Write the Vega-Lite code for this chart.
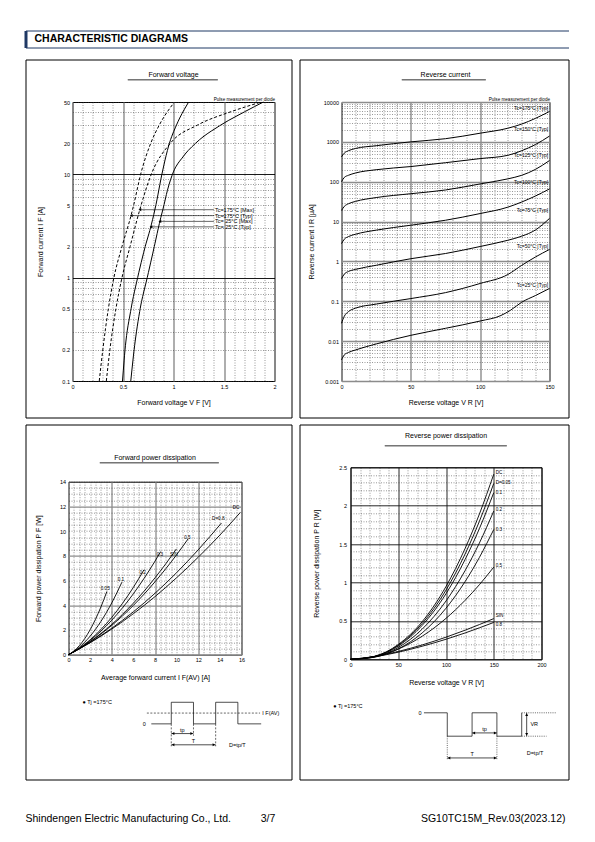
{
"$schema": "https://vega.github.io/schema/vega-lite/v6.json",
"background": "white",
"padding": {"left": 24.5, "top": 30.5, "right": 2, "bottom": 2},
"bounds": "flush",
"spacing": 12,
"datasets": {
 "hdr": [{"h": "CHARACTERISTIC DIAGRAMS"}],
 "one": [{"a": 0}],
 "fvLines": [
  {"s":"175Typ","V":0.265,"I":0.1},{"s":"175Typ","V":0.3,"I":0.2},{"s":"175Typ","V":0.355,"I":0.5},{"s":"175Typ","V":0.41,"I":1},{"s":"175Typ","V":0.49,"I":2},{"s":"175Typ","V":0.58,"I":4},{"s":"175Typ","V":0.605,"I":5},{"s":"175Typ","V":0.675,"I":10},{"s":"175Typ","V":0.775,"I":20},{"s":"175Typ","V":0.86,"I":30},{"s":"175Typ","V":1.01,"I":50},
  {"s":"175Max","V":0.335,"I":0.1},{"s":"175Max","V":0.37,"I":0.2},{"s":"175Max","V":0.43,"I":0.5},{"s":"175Max","V":0.49,"I":1},{"s":"175Max","V":0.57,"I":2},{"s":"175Max","V":0.665,"I":4.5},{"s":"175Max","V":0.78,"I":10},{"s":"175Max","V":0.97,"I":20},{"s":"175Max","V":1.24,"I":30},{"s":"175Max","V":1.56,"I":40},{"s":"175Max","V":1.87,"I":50},
  {"s":"25Typ","V":0.495,"I":0.1},{"s":"25Typ","V":0.52,"I":0.2},{"s":"25Typ","V":0.58,"I":0.5},{"s":"25Typ","V":0.645,"I":1},{"s":"25Typ","V":0.72,"I":2},{"s":"25Typ","V":0.775,"I":3.1},{"s":"25Typ","V":0.825,"I":5},{"s":"25Typ","V":0.885,"I":10},{"s":"25Typ","V":0.96,"I":20},{"s":"25Typ","V":1.03,"I":30},{"s":"25Typ","V":1.15,"I":50},
  {"s":"25Max","V":0.577,"I":0.1},{"s":"25Max","V":0.61,"I":0.2},{"s":"25Max","V":0.67,"I":0.5},{"s":"25Max","V":0.74,"I":1},{"s":"25Max","V":0.81,"I":2},{"s":"25Max","V":0.865,"I":3.5},{"s":"25Max","V":0.905,"I":5},{"s":"25Max","V":0.94,"I":7},{"s":"25Max","V":0.99,"I":10},{"s":"25Max","V":1.1,"I":15},{"s":"25Max","V":1.22,"I":20},{"s":"25Max","V":1.47,"I":30},{"s":"25Max","V":1.7,"I":40},{"s":"25Max","V":1.89,"I":50}
 ],
 "fvArrows": [
  {"s":"Tc=175°C [Max]","V":0.667,"V2":1.4,"I":4.54},
  {"s":"Tc=175°C [Typ]","V":0.582,"V2":1.4,"I":3.98},
  {"s":"Tc= 25°C [Max]","V":0.865,"V2":1.4,"I":3.5},
  {"s":"Tc= 25°C [Typ]","V":0.777,"V2":1.4,"I":3.1}
 ],
 "rcLines": [
  {"s":"175","V":0,"I":420},{"s":"175","V":2,"I":520},{"s":"175","V":5,"I":600},{"s":"175","V":10,"I":680},{"s":"175","V":25,"I":800},{"s":"175","V":50,"I":1000},{"s":"175","V":75,"I":1200},{"s":"175","V":100,"I":1650},{"s":"175","V":120,"I":2200},{"s":"175","V":130,"I":2800},{"s":"175","V":140,"I":3900},{"s":"175","V":150,"I":5800},
  {"s":"150","V":0,"I":100},{"s":"150","V":2,"I":128},{"s":"150","V":5,"I":145},{"s":"150","V":10,"I":165},{"s":"150","V":25,"I":200},{"s":"150","V":50,"I":240},{"s":"150","V":75,"I":300},{"s":"150","V":100,"I":380},{"s":"150","V":120,"I":460},{"s":"150","V":130,"I":600},{"s":"150","V":140,"I":860},{"s":"150","V":150,"I":1400},
  {"s":"125","V":0,"I":19},{"s":"125","V":2,"I":24},{"s":"125","V":5,"I":28},{"s":"125","V":10,"I":32},{"s":"125","V":25,"I":40},{"s":"125","V":50,"I":50},{"s":"125","V":75,"I":62},{"s":"125","V":100,"I":88},{"s":"125","V":120,"I":118},{"s":"125","V":130,"I":145},{"s":"125","V":140,"I":205},{"s":"125","V":150,"I":340},
  {"s":"100","V":0,"I":2.8},{"s":"100","V":2,"I":3.6},{"s":"100","V":5,"I":4.2},{"s":"100","V":10,"I":4.8},{"s":"100","V":25,"I":6.1},{"s":"100","V":50,"I":8.1},{"s":"100","V":75,"I":10.8},{"s":"100","V":100,"I":15.9},{"s":"100","V":120,"I":23},{"s":"100","V":130,"I":31},{"s":"100","V":140,"I":44},{"s":"100","V":150,"I":66},
  {"s":"75","V":0,"I":0.37},{"s":"75","V":2,"I":0.48},{"s":"75","V":5,"I":0.56},{"s":"75","V":10,"I":0.63},{"s":"75","V":25,"I":0.8},{"s":"75","V":50,"I":1.17},{"s":"75","V":75,"I":1.58},{"s":"75","V":100,"I":2.37},{"s":"75","V":120,"I":3.4},{"s":"75","V":130,"I":4.3},{"s":"75","V":140,"I":6.2},{"s":"75","V":150,"I":12},
  {"s":"50","V":0,"I":0.028},{"s":"50","V":2,"I":0.042},{"s":"50","V":5,"I":0.055},{"s":"50","V":10,"I":0.067},{"s":"50","V":25,"I":0.085},{"s":"50","V":50,"I":0.117},{"s":"50","V":75,"I":0.165},{"s":"50","V":100,"I":0.28},{"s":"50","V":120,"I":0.47},{"s":"50","V":130,"I":0.8},{"s":"50","V":140,"I":1.3},{"s":"50","V":150,"I":2.0},
  {"s":"25","V":0,"I":0.0034},{"s":"25","V":2,"I":0.0045},{"s":"25","V":5,"I":0.0052},{"s":"25","V":10,"I":0.006},{"s":"25","V":25,"I":0.0085},{"s":"25","V":50,"I":0.014},{"s":"25","V":75,"I":0.021},{"s":"25","V":100,"I":0.032},{"s":"25","V":115,"I":0.044},{"s":"25","V":122,"I":0.06},{"s":"25","V":130,"I":0.095},{"s":"25","V":140,"I":0.14},{"s":"25","V":150,"I":0.21}
 ],
 "rcLabels": [
  {"s":"Tc=175°C   [Typ]","V":149,"I":7000},
  {"s":"Tc=150°C   [Typ]","V":149,"I":2100},
  {"s":"Tc=125°C   [Typ]","V":149,"I":470},
  {"s":"Tc=100°C   [Typ]","V":149,"I":99},
  {"s":"Tc=75°C   [Typ]","V":149,"I":19},
  {"s":"Tc=50°C   [Typ]","V":149,"I":2.4},
  {"s":"Tc=25°C   [Typ]","V":149,"I":0.25}
 ],
 "fpdLines": [
  {"s":"0.05","I":0,"P":0},{"s":"0.05","I":0.5,"P":0.295},{"s":"0.05","I":1,"P":0.729},{"s":"0.05","I":1.5,"P":1.304},{"s":"0.05","I":2,"P":2.018},{"s":"0.05","I":2.5,"P":2.871},{"s":"0.05","I":3,"P":3.865},{"s":"0.05","I":3.55,"P":5.12},
  {"s":"0.1","I":0,"P":0},{"s":"0.1","I":1,"P":0.599},{"s":"0.1","I":2,"P":1.498},{"s":"0.1","I":3,"P":2.695},{"s":"0.1","I":4,"P":4.19},{"s":"0.1","I":4.94,"P":5.87},
  {"s":"0.2","I":0,"P":0},{"s":"0.2","I":1,"P":0.527},{"s":"0.2","I":2,"P":1.206},{"s":"0.2","I":3,"P":2.04},{"s":"0.2","I":4,"P":3.02},{"s":"0.2","I":5,"P":4.16},{"s":"0.2","I":6,"P":5.45},{"s":"0.2","I":6.98,"P":6.87},
  {"s":"0.3","I":0,"P":0},{"s":"0.3","I":1,"P":0.512},{"s":"0.3","I":2,"P":1.148},{"s":"0.3","I":3,"P":1.908},{"s":"0.3","I":4,"P":2.792},{"s":"0.3","I":5,"P":3.8},{"s":"0.3","I":6,"P":4.93},{"s":"0.3","I":7,"P":6.19},{"s":"0.3","I":8,"P":7.57},{"s":"0.3","I":8.53,"P":8.35},
  {"s":"SIN","I":0,"P":0},{"s":"SIN","I":1,"P":0.491},{"s":"SIN","I":2,"P":1.064},{"s":"SIN","I":3,"P":1.718},{"s":"SIN","I":4,"P":2.454},{"s":"SIN","I":5,"P":3.27},{"s":"SIN","I":6,"P":4.17},{"s":"SIN","I":7,"P":5.15},{"s":"SIN","I":8,"P":6.22},{"s":"SIN","I":9,"P":7.36},{"s":"SIN","I":9.98,"P":8.56},
  {"s":"0.5","I":0,"P":0},{"s":"0.5","I":1,"P":0.486},{"s":"0.5","I":2,"P":1.044},{"s":"0.5","I":4,"P":2.374},{"s":"0.5","I":6,"P":3.99},{"s":"0.5","I":8,"P":5.9},{"s":"0.5","I":10,"P":8.09},{"s":"0.5","I":11.06,"P":9.37},
  {"s":"0.8","I":0,"P":0},{"s":"0.8","I":2,"P":0.986},{"s":"0.8","I":4,"P":2.143},{"s":"0.8","I":6,"P":3.47},{"s":"0.8","I":8,"P":4.97},{"s":"0.8","I":10,"P":6.64},{"s":"0.8","I":12,"P":8.49},{"s":"0.8","I":14.15,"P":10.66},
  {"s":"DC","I":0,"P":0},{"s":"DC","I":2,"P":0.969},{"s":"DC","I":4,"P":2.076},{"s":"DC","I":6,"P":3.32},{"s":"DC","I":8,"P":4.7},{"s":"DC","I":10,"P":6.23},{"s":"DC","I":12,"P":7.89},{"s":"DC","I":14,"P":9.68},{"s":"DC","I":15.9,"P":11.52}
 ],
 "fpdLabels": [
  {"s":"0.05","I":3.4,"P":5.35},{"s":"0.1","I":4.85,"P":6.05},{"s":"0.2","I":6.85,"P":6.6},{"s":"0.3","I":8.45,"P":8.05},
  {"s":"SIN","I":9.75,"P":8.1},{"s":"0.5","I":11.0,"P":9.45},{"s":"D=0.8","I":13.85,"P":11.0},{"s":"DC","I":15.5,"P":11.9}
 ],
 "rpdLines": [
  {"s":"DC","V":0,"P":0},{"s":"DC","V":25,"P":0.039},{"s":"DC","V":50,"P":0.193},{"s":"DC","V":75,"P":0.489},{"s":"DC","V":100,"P":0.948},{"s":"DC","V":120,"P":1.443},{"s":"DC","V":135,"P":1.892},{"s":"DC","V":150,"P":2.41},
  {"s":"0.05","V":0,"P":0},{"s":"0.05","V":25,"P":0.037},{"s":"0.05","V":50,"P":0.183},{"s":"0.05","V":75,"P":0.465},{"s":"0.05","V":100,"P":0.901},{"s":"0.05","V":120,"P":1.371},{"s":"0.05","V":135,"P":1.798},{"s":"0.05","V":150,"P":2.29},
  {"s":"0.1","V":0,"P":0},{"s":"0.1","V":25,"P":0.035},{"s":"0.1","V":50,"P":0.173},{"s":"0.1","V":75,"P":0.441},{"s":"0.1","V":100,"P":0.854},{"s":"0.1","V":120,"P":1.299},{"s":"0.1","V":135,"P":1.703},{"s":"0.1","V":150,"P":2.17},
  {"s":"0.2","V":0,"P":0},{"s":"0.2","V":25,"P":0.031},{"s":"0.2","V":50,"P":0.154},{"s":"0.2","V":75,"P":0.392},{"s":"0.2","V":100,"P":0.759},{"s":"0.2","V":120,"P":1.155},{"s":"0.2","V":135,"P":1.515},{"s":"0.2","V":150,"P":1.93},
  {"s":"0.3","V":0,"P":0},{"s":"0.3","V":25,"P":0.027},{"s":"0.3","V":50,"P":0.135},{"s":"0.3","V":75,"P":0.343},{"s":"0.3","V":100,"P":0.665},{"s":"0.3","V":120,"P":1.012},{"s":"0.3","V":135,"P":1.327},{"s":"0.3","V":150,"P":1.69},
  {"s":"0.5","V":0,"P":0},{"s":"0.5","V":25,"P":0.033},{"s":"0.5","V":50,"P":0.133},{"s":"0.5","V":75,"P":0.3},{"s":"0.5","V":100,"P":0.533},{"s":"0.5","V":120,"P":0.768},{"s":"0.5","V":135,"P":0.972},{"s":"0.5","V":150,"P":1.2},
  {"s":"SIN","V":0,"P":0},{"s":"SIN","V":25,"P":0.036},{"s":"SIN","V":50,"P":0.102},{"s":"SIN","V":75,"P":0.187},{"s":"SIN","V":100,"P":0.288},{"s":"SIN","V":120,"P":0.379},{"s":"SIN","V":135,"P":0.4525},{"s":"SIN","V":150,"P":0.53},
  {"s":"0.8","V":0,"P":0},{"s":"0.8","V":25,"P":0.0326},{"s":"0.8","V":50,"P":0.0924},{"s":"0.8","V":75,"P":0.17},{"s":"0.8","V":100,"P":0.261},{"s":"0.8","V":120,"P":0.343},{"s":"0.8","V":135,"P":0.41},{"s":"0.8","V":150,"P":0.48}
 ],
 "rpdLabels": [
  {"s":"DC","V":152,"P":2.42},{"s":"D=0.05","V":152,"P":2.3},{"s":"0.1","V":152,"P":2.16},{"s":"0.2","V":152,"P":1.95},
  {"s":"0.3","V":152,"P":1.68},{"s":"0.5","V":152,"P":1.21},{"s":"SIN","V":152,"P":0.57},{"s":"0.8","V":152,"P":0.45}
 ]
},
"vconcat": [
 {
  "width": 543, "height": 17,
  "view": {"stroke": null},
  "data": {"name": "hdr"},
  "layer": [
   {"mark": {"type": "text", "align": "left", "baseline": "middle", "fontSize": 10.5, "fontWeight": "bold", "color": "#000"},
    "encoding": {
     "text": {"field": "h"},
     "x": {"field": "h", "type": "nominal", "scale": {"type": "point", "padding": 0, "align": 0.0166},
           "axis": {"orient": "bottom", "labels": false, "ticks": false, "title": null, "domain": true, "domainColor": "#1f3864", "domainWidth": 1, "grid": false}},
     "y": {"field": "h", "type": "nominal", "scale": {"type": "point", "padding": 0, "align": 0.5},
           "axis": {"orient": "left", "labels": false, "ticks": false, "title": null, "domain": true, "domainColor": "#1f3864", "domainWidth": 3, "grid": false}}
    }},
   {"mark": {"type": "text", "opacity": 0, "align": "left", "baseline": "middle", "fontSize": 10.5, "fontWeight": "bold"},
    "encoding": {
     "text": {"field": "h"},
     "x": {"field": "h", "type": "nominal", "axis": {"orient": "top", "labels": false, "ticks": false, "title": null, "domain": true, "domainColor": "#1f3864", "domainWidth": 1, "grid": false}},
     "y": {"field": "h", "type": "nominal"}
    }}
  ],
  "resolve": {"axis": {"x": "independent"}}
 },
 {
  "vconcat": [
   {
    "vconcat": [
     {"hconcat": [
       {"width": 266, "height": 358, "view": {"stroke": "#000000", "strokeWidth": 1}, "data": {"name": "one"}, "mark": {"type": "point", "opacity": 0}, "encoding": {}}
      ], "spacing": 0, "bounds": "flush"},
     {"hconcat": [
       {"width": 274, "height": 8, "view": {"stroke": null}, "data": {"name": "one"}, "mark": {"type": "point", "opacity": 0}, "encoding": {}},
       {"width": 269, "height": 358, "view": {"stroke": "#000000", "strokeWidth": 1}, "data": {"name": "one"}, "mark": {"type": "point", "opacity": 0}, "encoding": {}}
      ], "spacing": 0, "bounds": "flush"},
     {"vconcat": [
       {"width": 8, "height": 365, "view": {"stroke": null}, "data": {"name": "one"}, "mark": {"type": "point", "opacity": 0}, "encoding": {}},
       {"width": 266, "height": 355, "view": {"stroke": "#000000", "strokeWidth": 1}, "data": {"name": "one"}, "mark": {"type": "point", "opacity": 0}, "encoding": {}}
      ], "spacing": 0, "bounds": "flush"},
     {"hconcat": [
       {"width": 274, "height": 8, "view": {"stroke": null}, "data": {"name": "one"}, "mark": {"type": "point", "opacity": 0}, "encoding": {}},
       {"vconcat": [
         {"width": 8, "height": 365, "view": {"stroke": null}, "data": {"name": "one"}, "mark": {"type": "point", "opacity": 0}, "encoding": {}},
         {"width": 269, "height": 355, "view": {"stroke": "#000000", "strokeWidth": 1}, "data": {"name": "one"}, "mark": {"type": "point", "opacity": 0}, "encoding": {}}
        ], "spacing": 0, "bounds": "flush"}
      ], "spacing": 0, "bounds": "flush"},
     {"hconcat": [
       {"width": 102, "height": 8, "view": {"stroke": null}, "data": {"name": "one"}, "mark": {"type": "point", "opacity": 0}, "encoding": {}},
       {"vconcat": [
         {"width": 8, "height": 20, "view": {"stroke": null}, "data": {"name": "one"}, "mark": {"type": "point", "opacity": 0}, "encoding": {}},
         {"width": 90, "height": 0.01, "view": {"stroke": "#555555", "strokeWidth": 0.8}, "data": {"name": "one"}, "mark": {"type": "point", "opacity": 0}, "encoding": {}}
        ], "spacing": 0, "bounds": "flush"}
      ], "spacing": 0, "bounds": "flush"},
     {"hconcat": [
       {"width": 376, "height": 8, "view": {"stroke": null}, "data": {"name": "one"}, "mark": {"type": "point", "opacity": 0}, "encoding": {}},
       {"vconcat": [
         {"width": 8, "height": 20, "view": {"stroke": null}, "data": {"name": "one"}, "mark": {"type": "point", "opacity": 0}, "encoding": {}},
         {"width": 84, "height": 0.01, "view": {"stroke": "#555555", "strokeWidth": 0.8}, "data": {"name": "one"}, "mark": {"type": "point", "opacity": 0}, "encoding": {}}
        ], "spacing": 0, "bounds": "flush"}
      ], "spacing": 0, "bounds": "flush"},
     {"hconcat": [
       {"width": 74, "height": 8, "view": {"stroke": null}, "data": {"name": "one"}, "mark": {"type": "point", "opacity": 0}, "encoding": {}},
       {"vconcat": [
         {"width": 8, "height": 402.7, "view": {"stroke": null}, "data": {"name": "one"}, "mark": {"type": "point", "opacity": 0}, "encoding": {}},
         {"width": 119, "height": 0.01, "view": {"stroke": "#555555", "strokeWidth": 0.8}, "data": {"name": "one"}, "mark": {"type": "point", "opacity": 0}, "encoding": {}}
        ], "spacing": 0, "bounds": "flush"}
      ], "spacing": 0, "bounds": "flush"},
     {"hconcat": [
       {"width": 359, "height": 8, "view": {"stroke": null}, "data": {"name": "one"}, "mark": {"type": "point", "opacity": 0}, "encoding": {}},
       {"vconcat": [
         {"width": 8, "height": 386, "view": {"stroke": null}, "data": {"name": "one"}, "mark": {"type": "point", "opacity": 0}, "encoding": {}},
         {"width": 122, "height": 0.01, "view": {"stroke": "#555555", "strokeWidth": 0.8}, "data": {"name": "one"}, "mark": {"type": "point", "opacity": 0}, "encoding": {}}
        ], "spacing": 0, "bounds": "flush"}
      ], "spacing": 0, "bounds": "flush"}
    ],
    "spacing": 0, "bounds": "flush"
   },
   {
    "vconcat": [
     {
      "hconcat": [
       {"width": 43, "height": 8, "view": {"stroke": null}, "data": {"name": "one"}, "mark": {"type": "point", "opacity": 0}, "encoding": {}},
       {
        "vconcat": [
         {
          "hconcat": [
           {"width": 4, "height": 8, "view": {"stroke": null}, "data": {"name": "one"}, "mark": {"type": "point", "opacity": 0, "size": 1}, "encoding": {}},
           {
            "width": 202, "height": 279,
            "title": {"text": "Forward voltage", "offset": 18},
            "layer": [
             {"data": {"name": "fvLines"},
              "mark": {"type": "line", "color": "black", "strokeWidth": 1, "interpolate": "monotone"},
              "encoding": {
               "x": {"field": "V", "type": "quantitative", "scale": {"domain": [0, 2], "nice": false, "zero": false},
                     "axis": {"values": [0,0.1,0.2,0.3,0.4,0.5,0.6,0.7,0.8,0.9,1,1.1,1.2,1.3,1.4,1.5,1.6,1.7,1.8,1.9,2],
                              "labelExpr": "abs(datum.value*2-round(datum.value*2))<0.001 ? ''+datum.value : ''", "labelOverlap": false, "labelPadding": 3, "grid": true,
                              "gridColor": {"condition": {"test": "abs(datum.value*2-round(datum.value*2))<0.001", "value": "#8c8c8c"}, "value": "#333333"},
                              "gridWidth": {"condition": {"test": "abs(datum.value*2-round(datum.value*2))<0.001", "value": 1.4}, "value": 0.5},
                              "gridDash": {"condition": {"test": "abs(datum.value*2-round(datum.value*2))<0.001", "value": []}, "value": [1, 1.5]},
                              "title": "Forward voltage   V F       [V]", "titlePadding": 9}},
               "y": {"field": "I", "type": "quantitative", "scale": {"type": "log", "domain": [0.1, 50], "nice": false},
                     "axis": {"values": [0.1,0.2,0.3,0.4,0.5,0.6,0.7,0.8,0.9,1,2,3,4,5,6,7,8,9,10,20,30,40,50],
                              "labelExpr": "indexof([0.1,0.2,0.5,1,2,5,10,20,50], datum.value) >= 0 ? ''+datum.value : ''", "labelOverlap": false, "labelPadding": 3, "grid": true,
                              "gridColor": {"condition": {"test": "datum.value == 1 || datum.value == 10", "value": "#000000"}, "value": "#333333"},
                              "gridWidth": {"condition": {"test": "datum.value == 1 || datum.value == 10", "value": 0.9}, "value": 0.5},
                              "gridDash": {"condition": {"test": "datum.value == 1 || datum.value == 10", "value": []}, "value": [1, 1.5]},
                              "title": "Forward current   I F       [A]", "titlePadding": 18}},
               "detail": {"field": "s"},
               "strokeDash": {"field": "s", "type": "nominal", "scale": {"domain": ["175Typ","175Max","25Typ","25Max"], "range": [[3,2],[3,2],[10,0],[10,0]]}, "legend": null}
              }},
             {"data": {"name": "fvArrows"},
              "mark": {"type": "rule", "color": "black", "strokeWidth": 0.6},
              "encoding": {"x": {"field": "V", "type": "quantitative", "axis": null}, "x2": {"field": "V2"}, "y": {"field": "I", "type": "quantitative"}}},
             {"data": {"name": "fvArrows"},
              "mark": {"type": "point", "shape": "triangle-left", "filled": true, "size": 10, "color": "black", "opacity": 1},
              "encoding": {"x": {"field": "V", "type": "quantitative", "axis": null}, "y": {"field": "I", "type": "quantitative"}}},
             {"data": {"name": "fvArrows"},
              "mark": {"type": "text", "align": "left", "baseline": "middle", "fontSize": 5.5, "dx": 1},
              "encoding": {
               "x": {"field": "V2", "type": "quantitative", "axis": {"orient": "top", "labels": false, "ticks": false, "domain": false, "grid": false, "title": "Pulse measurement per diode", "titleAnchor": "end", "titleFontSize": 4.6, "titlePadding": 1}},
               "y": {"field": "I", "type": "quantitative"},
               "text": {"field": "s"}
              }}
            ],
            "resolve": {"axis": {"x": "independent"}}
           }
          ],
          "spacing": 0, "bounds": "flush"
         },
         {
          "vconcat": [
           {
            "width": 173, "height": 173,
            "title": {"text": "Forward power dissipation", "offset": 19},
            "layer": [
             {"data": {"name": "fpdLines"},
              "mark": {"type": "line", "color": "black", "strokeWidth": 0.9, "interpolate": "monotone"},
              "encoding": {
               "x": {"field": "I", "type": "quantitative", "scale": {"domain": [0, 16], "nice": false, "zero": false},
                     "axis": {"values": [0,0.5,1,1.5,2,2.5,3,3.5,4,4.5,5,5.5,6,6.5,7,7.5,8,8.5,9,9.5,10,10.5,11,11.5,12,12.5,13,13.5,14,14.5,15,15.5,16],
                              "labelExpr": "datum.value % 2 == 0 ? ''+datum.value : ''", "labelOverlap": false, "labelPadding": 3, "grid": true,
                              "gridColor": {"condition": {"test": "datum.value % 4 == 0", "value": "#8c8c8c"}, "value": "#333333"},
                              "gridWidth": {"condition": {"test": "datum.value % 4 == 0", "value": 1.3}, "value": 0.5},
                              "gridDash": {"condition": {"test": "datum.value % 4 == 0", "value": []}, "value": [1, 1.5]},
                              "title": "Average forward current   I F(AV)       [A]", "titlePadding": 10}},
               "y": {"field": "P", "type": "quantitative", "scale": {"domain": [0, 14], "nice": false, "zero": false},
                     "axis": {"values": [0,0.5,1,1.5,2,2.5,3,3.5,4,4.5,5,5.5,6,6.5,7,7.5,8,8.5,9,9.5,10,10.5,11,11.5,12,12.5,13,13.5,14],
                              "labelExpr": "datum.value % 2 == 0 ? ''+datum.value : ''", "labelOverlap": false, "labelPadding": 3, "grid": true,
                              "gridColor": {"condition": {"test": "datum.value % 4 == 0", "value": "#8c8c8c"}, "value": "#333333"},
                              "gridWidth": {"condition": {"test": "datum.value % 4 == 0", "value": 1.3}, "value": 0.5},
                              "gridDash": {"condition": {"test": "datum.value % 4 == 0", "value": []}, "value": [1, 1.5]},
                              "title": "Forward power dissipation   P F       [W]", "titlePadding": 18}},
               "detail": {"field": "s"}
              }},
             {"data": {"name": "fpdLabels"},
              "mark": {"type": "text", "align": "center", "baseline": "middle", "fontSize": 4.6},
              "encoding": {"x": {"field": "I", "type": "quantitative", "axis": null}, "y": {"field": "P", "type": "quantitative", "axis": null}, "text": {"field": "s"}}}
            ],
            "resolve": {"axis": {"x": "independent", "y": "independent"}}
           },
           {
            "width": 202, "height": 51.8,
            "view": {"stroke": null},
            "layer": [
             {"data": {"values": [{"k":0,"t":0.1,"v":0},{"k":1,"t":1,"v":0},{"k":2,"t":1,"v":1},{"k":3,"t":2,"v":1},{"k":4,"t":2,"v":0},{"k":5,"t":3,"v":0},{"k":6,"t":3,"v":1},{"k":7,"t":4,"v":1},{"k":8,"t":4,"v":0},{"k":9,"t":5.05,"v":0}]},
              "mark": {"type": "line", "color": "black", "strokeWidth": 0.7},
              "encoding": {
               "x": {"field": "t", "type": "quantitative", "scale": {"domain": [-3.63, 5.47], "nice": false, "zero": false}, "axis": null},
               "y": {"field": "v", "type": "quantitative", "scale": {"domain": [-1.16, 1.24], "nice": false, "zero": false}, "axis": null},
               "order": {"field": "k"}
              }},
             {"data": {"values": [{"t":-0.1,"t2":5.0,"v":0.5,"v2":0.5},{"t":1,"t2":1,"v":0,"v2":-1.04},{"t":3,"t2":3,"v":0,"v2":-1.04},{"t":2,"t2":2,"v":0,"v2":-0.55}]},
              "mark": {"type": "rule", "color": "black", "strokeWidth": 0.6, "strokeDash": [2, 1.5]},
              "encoding": {"x": {"field": "t", "type": "quantitative", "axis": null}, "x2": {"field": "t2"}, "y": {"field": "v", "type": "quantitative", "axis": null}, "y2": {"field": "v2"}}},
             {"data": {"values": [{"t":1,"t2":2,"v":-0.45,"v2":-0.45},{"t":1,"t2":3,"v":-0.97,"v2":-0.97}]},
              "mark": {"type": "rule", "color": "black", "strokeWidth": 0.7},
              "encoding": {"x": {"field": "t", "type": "quantitative", "axis": null}, "x2": {"field": "t2"}, "y": {"field": "v", "type": "quantitative", "axis": null}, "y2": {"field": "v2"}}},
             {"data": {"values": [{"t":1.08,"v":-0.45,"d":"l"},{"t":1.92,"v":-0.45,"d":"r"},{"t":1.08,"v":-0.97,"d":"l"},{"t":2.92,"v":-0.97,"d":"r"}]},
              "mark": {"type": "point", "filled": true, "size": 9, "color": "black", "opacity": 1},
              "encoding": {"x": {"field": "t", "type": "quantitative", "axis": null}, "y": {"field": "v", "type": "quantitative", "axis": null},
                           "shape": {"field": "d", "type": "nominal", "scale": {"domain": ["l","r","u","d"], "range": ["triangle-left","triangle-right","triangle-up","triangle-down"]}, "legend": null}}},
             {"data": {"values": [{"s":"● Tj =175°C","t":-3.0,"v":1.0},{"s":"D=tp/T","t":3.6,"v":-0.97},{"s":"I F(AV)","t":5.1,"v":0.5}]},
              "mark": {"type": "text", "align": "left", "baseline": "middle", "fontSize": 5.5},
              "encoding": {"x": {"field": "t", "type": "quantitative", "axis": null}, "y": {"field": "v", "type": "quantitative", "axis": null}, "text": {"field": "s"}}},
             {"data": {"values": [{"s":"tp","t":1.5,"v":-0.27},{"s":"T","t":2.0,"v":-0.8}]},
              "mark": {"type": "text", "align": "center", "baseline": "middle", "fontSize": 5.5},
              "encoding": {"x": {"field": "t", "type": "quantitative", "axis": null}, "y": {"field": "v", "type": "quantitative", "axis": null}, "text": {"field": "s"}}},
             {"data": {"values": [{"s":"0","t":-0.15,"v":0}]},
              "mark": {"type": "text", "align": "right", "baseline": "middle", "fontSize": 5.5},
              "encoding": {"x": {"field": "t", "type": "quantitative", "axis": null}, "y": {"field": "v", "type": "quantitative", "axis": null}, "text": {"field": "s"}}}
            ]
           }
          ],
          "spacing": 42.4, "bounds": "flush"
         }
        ],
        "spacing": 379.7, "bounds": "flush"
       },
       {"width": 273, "height": 8, "view": {"stroke": null}, "data": {"name": "one"}, "mark": {"type": "point", "opacity": 0}, "encoding": {}},
       {
        "vconcat": [
         {
          "width": 208, "height": 279,
          "title": {"text": "Reverse current", "offset": 18},
          "layer": [
           {"data": {"name": "rcLines"},
            "mark": {"type": "line", "color": "black", "strokeWidth": 1, "interpolate": "monotone"},
            "encoding": {
             "x": {"field": "V", "type": "quantitative", "scale": {"domain": [0, 150], "nice": false, "zero": false},
                   "axis": {"values": [0,10,20,30,40,50,60,70,80,90,100,110,120,130,140,150],
                            "labelExpr": "datum.value % 50 == 0 ? ''+datum.value : ''", "labelOverlap": false, "labelPadding": 3, "grid": true,
                            "gridColor": {"condition": {"test": "datum.value % 50 == 0", "value": "#8c8c8c"}, "value": "#333333"},
                            "gridWidth": {"condition": {"test": "datum.value % 50 == 0", "value": 1.4}, "value": 0.5},
                            "gridDash": {"condition": {"test": "datum.value % 50 == 0", "value": []}, "value": [1, 1.5]},
                            "title": "Reverse voltage   V R       [V]", "titlePadding": 9}},
             "y": {"field": "I", "type": "quantitative", "scale": {"type": "log", "domain": [0.001, 10000], "nice": false},
                   "axis": {"values": [0.001,0.002,0.003,0.004,0.005,0.006,0.007,0.008,0.009,0.01,0.02,0.03,0.04,0.05,0.06,0.07,0.08,0.09,0.1,0.2,0.3,0.4,0.5,0.6,0.7,0.8,0.9,1,2,3,4,5,6,7,8,9,10,20,30,40,50,60,70,80,90,100,200,300,400,500,600,700,800,900,1000,2000,3000,4000,5000,6000,7000,8000,9000,10000],
                            "labelExpr": "indexof([0.001,0.01,0.1,1,10,100,1000,10000], datum.value) >= 0 ? ''+datum.value : ''", "labelOverlap": false, "labelPadding": 3, "grid": true,
                            "gridColor": {"condition": {"test": "indexof([0.001,0.01,0.1,1,10,100,1000,10000], datum.value) >= 0", "value": "#8c8c8c"}, "value": "#333333"},
                            "gridWidth": {"condition": {"test": "indexof([0.001,0.01,0.1,1,10,100,1000,10000], datum.value) >= 0", "value": 1.4}, "value": 0.5},
                            "gridDash": {"condition": {"test": "indexof([0.001,0.01,0.1,1,10,100,1000,10000], datum.value) >= 0", "value": []}, "value": [1, 1.5]},
                            "title": "Reverse current   I R       [μA]", "titlePadding": 9}},
             "detail": {"field": "s"}
            }},
           {"data": {"name": "rcLabels"},
            "mark": {"type": "text", "align": "right", "baseline": "middle", "fontSize": 5},
            "encoding": {
             "x": {"field": "V", "type": "quantitative", "axis": {"orient": "top", "labels": false, "ticks": false, "domain": false, "grid": false, "title": "Pulse measurement per diode", "titleAnchor": "end", "titleFontSize": 4.6, "titlePadding": 1}},
             "y": {"field": "I", "type": "quantitative"},
             "text": {"field": "s"}
            }}
          ],
          "resolve": {"axis": {"x": "independent"}}
         },
         {
          "hconcat": [
           {"width": 8.5, "height": 8, "view": {"stroke": null}, "data": {"name": "one"}, "mark": {"type": "point", "opacity": 0, "size": 1}, "encoding": {}},
           {
            "vconcat": [
             {
              "width": 191, "height": 192,
              "title": {"text": "Reverse power dissipation", "offset": 26},
              "layer": [
               {"data": {"name": "rpdLines"},
                "mark": {"type": "line", "color": "black", "strokeWidth": 0.9, "interpolate": "monotone"},
                "encoding": {
                 "x": {"field": "V", "type": "quantitative", "scale": {"domain": [0, 200], "nice": false, "zero": false},
                       "axis": {"values": [0,10,20,30,40,50,60,70,80,90,100,110,120,130,140,150,160,170,180,190,200],
                                "labelExpr": "datum.value % 50 == 0 ? ''+datum.value : ''", "labelOverlap": false, "labelPadding": 3, "grid": true,
                                "gridColor": {"condition": {"test": "datum.value % 50 == 0", "value": "#111111"}, "value": "#333333"},
                                "gridWidth": {"condition": {"test": "datum.value % 50 == 0", "value": 0.9}, "value": 0.5},
                                "gridDash": {"condition": {"test": "datum.value % 50 == 0", "value": []}, "value": [1, 1.5]},
                                "title": "Reverse voltage   V R       [V]", "titlePadding": 11}},
                 "y": {"field": "P", "type": "quantitative", "scale": {"domain": [0, 2.5], "nice": false, "zero": false},
                       "axis": {"values": [0,0.1,0.2,0.3,0.4,0.5,0.6,0.7,0.8,0.9,1,1.1,1.2,1.3,1.4,1.5,1.6,1.7,1.8,1.9,2,2.1,2.2,2.3,2.4,2.5],
                                "labelExpr": "abs(datum.value*2-round(datum.value*2))<0.001 ? ''+datum.value : ''", "labelOverlap": false, "labelPadding": 4, "grid": true,
                                "gridColor": {"condition": {"test": "abs(datum.value*2-round(datum.value*2))<0.001", "value": "#111111"}, "value": "#333333"},
                                "gridWidth": {"condition": {"test": "abs(datum.value*2-round(datum.value*2))<0.001", "value": 0.9}, "value": 0.5},
                                "gridDash": {"condition": {"test": "abs(datum.value*2-round(datum.value*2))<0.001", "value": []}, "value": [1, 1.5]},
                                "title": "Reverse power dissipation   P R       [W]", "titlePadding": 19}},
                 "detail": {"field": "s"}
                }},
               {"data": {"name": "rpdLabels"},
                "mark": {"type": "text", "align": "left", "baseline": "middle", "fontSize": 4.6},
                "encoding": {"x": {"field": "V", "type": "quantitative", "axis": null}, "y": {"field": "P", "type": "quantitative", "axis": null}, "text": {"field": "s"}}}
              ],
              "resolve": {"axis": {"x": "independent", "y": "independent"}}
             },
             {
              "width": 199.5, "height": 65.5,
              "view": {"stroke": null},
              "layer": [
               {"data": {"values": [{"k":0,"t":0.06,"v":0},{"k":1,"t":1,"v":0},{"k":2,"t":1,"v":-1},{"k":3,"t":2,"v":-1},{"k":4,"t":2,"v":0},{"k":5,"t":3,"v":0},{"k":6,"t":3,"v":-1},{"k":7,"t":4,"v":-1},{"k":8,"t":4,"v":0}]},
                "mark": {"type": "line", "color": "black", "strokeWidth": 0.7},
                "encoding": {
                 "x": {"field": "t", "type": "quantitative", "scale": {"domain": [-2.9, 5.14], "nice": false, "zero": false}, "axis": null},
                 "y": {"field": "v", "type": "quantitative", "scale": {"domain": [-2.163, 0.637], "nice": false, "zero": false}, "axis": null},
                 "order": {"field": "k"}
                }},
               {"data": {"values": [{"t":4,"t2":5.4,"v":0,"v2":0},{"t":4,"t2":5.0,"v":-1,"v2":-1},{"t":1,"t2":1,"v":-1,"v2":-2.0},{"t":3,"t2":3,"v":-1,"v2":-2.0}]},
                "mark": {"type": "rule", "color": "black", "strokeWidth": 0.6, "strokeDash": [1, 1.2]},
                "encoding": {"x": {"field": "t", "type": "quantitative", "axis": null}, "x2": {"field": "t2"}, "y": {"field": "v", "type": "quantitative", "axis": null}, "y2": {"field": "v2"}}},
               {"data": {"values": [{"t":2,"t2":3,"v":-0.86,"v2":-0.86},{"t":1,"t2":3,"v":-1.93,"v2":-1.93},{"t":4.2,"t2":4.2,"v":0,"v2":-1}]},
                "mark": {"type": "rule", "color": "black", "strokeWidth": 0.7},
                "encoding": {"x": {"field": "t", "type": "quantitative", "axis": null}, "x2": {"field": "t2"}, "y": {"field": "v", "type": "quantitative", "axis": null}, "y2": {"field": "v2"}}},
               {"data": {"values": [{"t":2.07,"v":-0.86,"d":"l"},{"t":2.93,"v":-0.86,"d":"r"},{"t":1.07,"v":-1.93,"d":"l"},{"t":2.93,"v":-1.93,"d":"r"},{"t":4.2,"v":-0.08,"d":"u"},{"t":4.2,"v":-0.92,"d":"d"}]},
                "mark": {"type": "point", "filled": true, "size": 9, "color": "black", "opacity": 1},
                "encoding": {"x": {"field": "t", "type": "quantitative", "axis": null}, "y": {"field": "v", "type": "quantitative", "axis": null},
                             "shape": {"field": "d", "type": "nominal", "scale": {"domain": ["l","r","u","d"], "range": ["triangle-left","triangle-right","triangle-up","triangle-down"]}, "legend": null}}},
               {"data": {"values": [{"s":"● Tj =175°C","t":-3.6,"v":0.28},{"s":"VR","t":4.35,"v":-0.5},{"s":"D=tp/T","t":4.2,"v":-1.7}]},
                "mark": {"type": "text", "align": "left", "baseline": "middle", "fontSize": 5.5},
                "encoding": {"x": {"field": "t", "type": "quantitative", "axis": null}, "y": {"field": "v", "type": "quantitative", "axis": null}, "text": {"field": "s"}}},
               {"data": {"values": [{"s":"tp","t":2.5,"v":-0.68},{"s":"T","t":2.0,"v":-1.78}]},
                "mark": {"type": "text", "align": "center", "baseline": "middle", "fontSize": 5.5},
                "encoding": {"x": {"field": "t", "type": "quantitative", "axis": null}, "y": {"field": "v", "type": "quantitative", "axis": null}, "text": {"field": "s"}}},
               {"data": {"values": [{"s":"0","t":-0.04,"v":0}]},
                "mark": {"type": "text", "align": "right", "baseline": "middle", "fontSize": 5.5},
                "encoding": {"x": {"field": "t", "type": "quantitative", "axis": null}, "y": {"field": "v", "type": "quantitative", "axis": null}, "text": {"field": "s"}}}
              ]
             }
            ],
            "spacing": 38.6, "bounds": "flush"
           }
          ],
          "spacing": 0, "bounds": "flush"
         }
        ],
        "spacing": 86.3, "bounds": "flush"
       }
      ],
      "spacing": 0, "bounds": "flush"
     },
     {
      "width": 543, "height": 1,
      "view": {"stroke": null},
      "layer": [
       {"data": {"values": [{"t": "Shindengen Electric Manufacturing Co., Ltd."}]},
        "mark": {"type": "text", "align": "left", "baseline": "middle", "fontSize": 10.5},
        "encoding": {"text": {"field": "t"}, "x": {"field": "t", "type": "nominal", "scale": {"type": "point", "padding": 0, "align": 0}, "axis": null}}},
       {"data": {"values": [{"t": "3/7"}]},
        "mark": {"type": "text", "align": "center", "baseline": "middle", "fontSize": 10.5},
        "encoding": {"text": {"field": "t"}, "x": {"field": "t", "type": "nominal", "scale": {"type": "point", "padding": 0, "align": 0.4466}, "axis": null}}},
       {"data": {"values": [{"t": "SG10TC15M_Rev.03(2023.12)"}]},
        "mark": {"type": "text", "align": "right", "baseline": "middle", "fontSize": 10.5},
        "encoding": {"text": {"field": "t"}, "x": {"field": "t", "type": "nominal", "scale": {"type": "point", "padding": 0, "align": 0.9945}, "axis": null}}}
      ],
      "resolve": {"scale": {"x": "independent"}}
     }
    ],
    "spacing": 716.2, "bounds": "flush"
   }
  ],
  "spacing": 42.5, "bounds": "flush"
 }
],
"config": {
 "font": "Liberation Sans",
 "view": {"stroke": "black", "strokeWidth": 1},
 "axis": {"ticks": false, "domain": false, "labelFontSize": 5.5, "labelColor": "#000000", "titleFontSize": 7, "titleFontWeight": "normal", "titleColor": "#000000", "labelOverlap": false, "labelFlush": false, "gridOpacity": 1},
 "title": {"fontSize": 7, "fontWeight": "normal", "color": "#000000"},
 "text": {"color": "#000000"}
}
}
